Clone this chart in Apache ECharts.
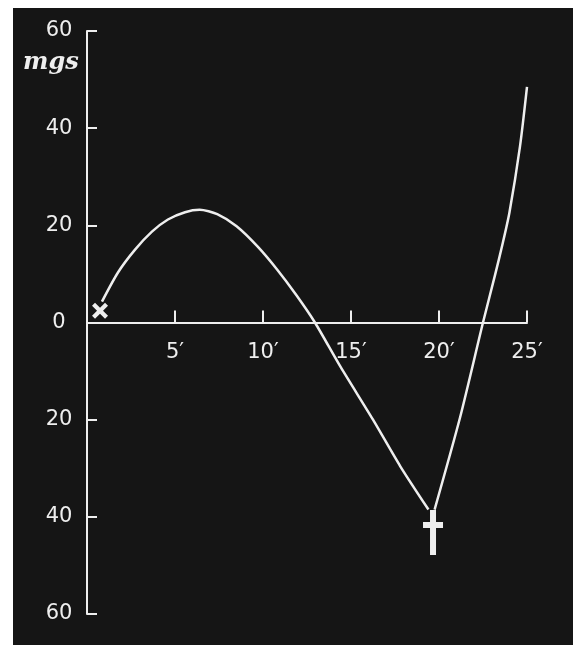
<!DOCTYPE html>
<html>
<head>
<meta charset="utf-8">
<script src="https://cdn.jsdelivr.net/npm/echarts@6/dist/echarts.min.js"></script>
<style>
  html, body { margin: 0; padding: 0; background: #fff; }
  #panel { position: absolute; left: 13px; top: 8px; width: 560px; height: 637px; background: #151515; }
  #chart { position: absolute; left: 0; top: 0; width: 573px; height: 648px; }
</style>
</head>
<body>
<div id="panel"></div>
<div id="chart"></div>
<script>
// minutes / mgs
var riseTimes = [0.85, 1.76, 2.73, 3.69, 4.6, 5.57, 6.4, 7.4, 8.5, 9.7, 10.8, 11.9, 12.95, 14.4, 16.25, 17.8, 19.4];
var riseValues = [4.3, 10.3, 15.0, 18.7, 21.2, 22.7, 23.2, 22.3, 19.8, 15.6, 10.9, 5.6, 0, -9.1, -20, -29.6, -38.5];
var backTimes = [19.75, 21.2, 22.5, 23.2, 23.6, 24.0, 24.6, 25.0];
var backValues = [-38.5, -19.5, 0, 10, 16, 22.6, 36.2, 48.5];

var startMark = [0.74, 2.4];   // the "x" at the start
var deathMark = [19.66, -43.2]; // the cross at the bottom

var xTicks = [0, 5, 10, 15, 20, 25];
var yTicks = [-60, -40, -20, 0, 20, 40, 60];

function pairs(xs, ys) {
    var out = [];
    for (var i = 0; i < xs.length; i++) {
        out.push([xs[i], ys[i]]);
    }
    return out;
}

var white = '#eeeeee';
var gridTop = 31, gridBottom = 34;
var gridHeight = 648 - gridTop - gridBottom;

var myChart = echarts.init(document.getElementById('chart'));
var option = {
    backgroundColor: 'transparent',
    animation: false,
    title: {
        text: 'mgs',
        left: 18,
        top: 46,
        textStyle: {
            color: white,
            fontFamily: 'DejaVu Serif',
            fontStyle: 'italic',
            fontWeight: 'bold',
            fontSize: 24
        }
    },
    grid: {
        left: 87,
        right: 46,
        top: gridTop,
        bottom: gridBottom
    },
    xAxis: {
        type: 'value',
        min: xTicks[0],
        max: xTicks[xTicks.length - 1],
        interval: 5,
        offset: -gridHeight / 2, // axis sits on the zero line
        splitLine: { show: false },
        axisLine: { onZero: false, lineStyle: { color: white, width: 2 } },
        axisTick: { inside: true, length: 12, lineStyle: { color: white, width: 2 } },
        axisLabel: {
            color: white,
            fontFamily: 'DejaVu Sans',
            fontSize: 21,
            margin: 20,
            formatter: function (v) { return v === 0 ? '' : v + '\u2032'; }
        }
    },
    yAxis: {
        type: 'value',
        min: yTicks[0],
        max: yTicks[yTicks.length - 1],
        interval: 20,
        splitLine: { show: false },
        axisLine: { lineStyle: { color: white, width: 2 } },
        axisTick: { inside: true, length: 10, lineStyle: { color: white, width: 2 } },
        axisLabel: {
            color: white,
            fontFamily: 'DejaVu Sans',
            fontSize: 21,
            margin: 28,
            align: 'center',
            formatter: function (v) { return String(Math.abs(v)); }
        }
    },
    series: [
        {
            type: 'line',
            data: pairs(riseTimes, riseValues),
            smooth: 0.25,
            showSymbol: false,
            lineStyle: { color: white, width: 2.5 }
        },
        {
            type: 'line',
            data: pairs(backTimes, backValues),
            smooth: 0.25,
            showSymbol: false,
            lineStyle: { color: white, width: 2.5 }
        },
        {
            type: 'scatter',
            data: [startMark],
            symbol: 'path://M0,3L3,0L8,5L13,0L16,3L11,8L16,13L13,16L8,11L3,16L0,13L5,8Z',
            symbolSize: [16, 16],
            itemStyle: { color: white, opacity: 1 }
        },
        {
            type: 'scatter',
            data: [deathMark],
            symbol: 'path://M7,0H13V12H20V18H13V45H7V18H0V12H7Z',
            symbolSize: [20, 45],
            itemStyle: { color: white, opacity: 1 }
        }
    ]
};
myChart.setOption(option);
</script>
</body>
</html>
